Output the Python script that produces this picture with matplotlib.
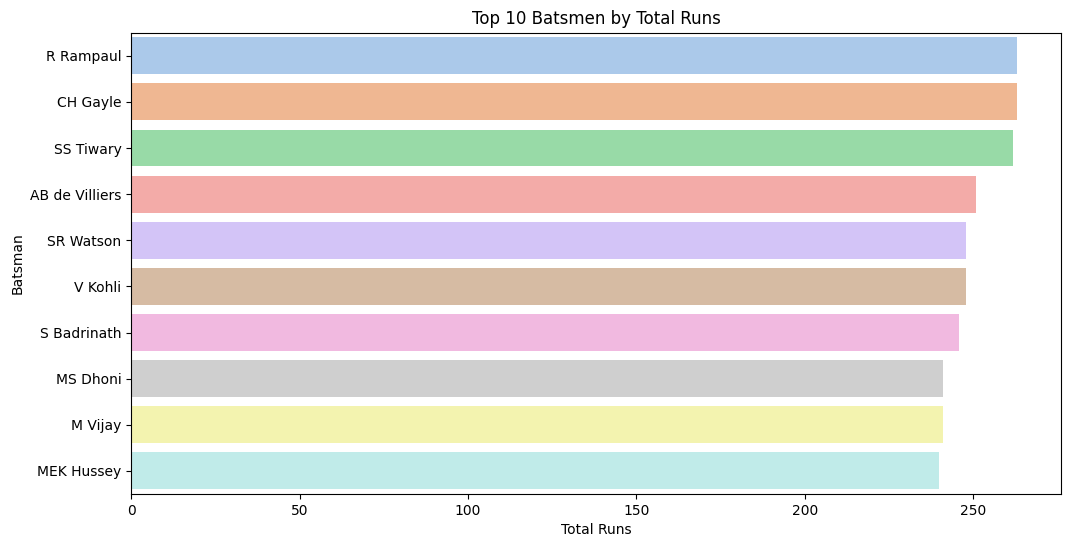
import matplotlib
matplotlib.use("Agg")
import matplotlib.pyplot as plt
import seaborn as sns
import pandas as pd

batsmen = ["R Rampaul", "CH Gayle", "SS Tiwary", "AB de Villiers", "SR Watson",
           "V Kohli", "S Badrinath", "MS Dhoni", "M Vijay", "MEK Hussey"]
total_runs = [263, 263, 262, 251, 248, 248, 246, 241, 241, 240]

df = pd.DataFrame({"batsman": batsmen, "total_runs": total_runs})

fig = plt.figure(figsize=(10.7, 5.47), dpi=100)
ax = fig.add_axes([131.3 / 1070, 1 - 494 / 547, (1061 - 131.3) / 1070, (494 - 32.7) / 547])

sns.barplot(data=df, x="total_runs", y="batsman", hue="batsman",
            palette="pastel", legend=False, ax=ax)

ax.set_title("Top 10 Batsmen by Total Runs")
ax.set_xlabel("Total Runs")
ax.set_ylabel("Batsman")

fig.savefig("out.png", dpi=100)
